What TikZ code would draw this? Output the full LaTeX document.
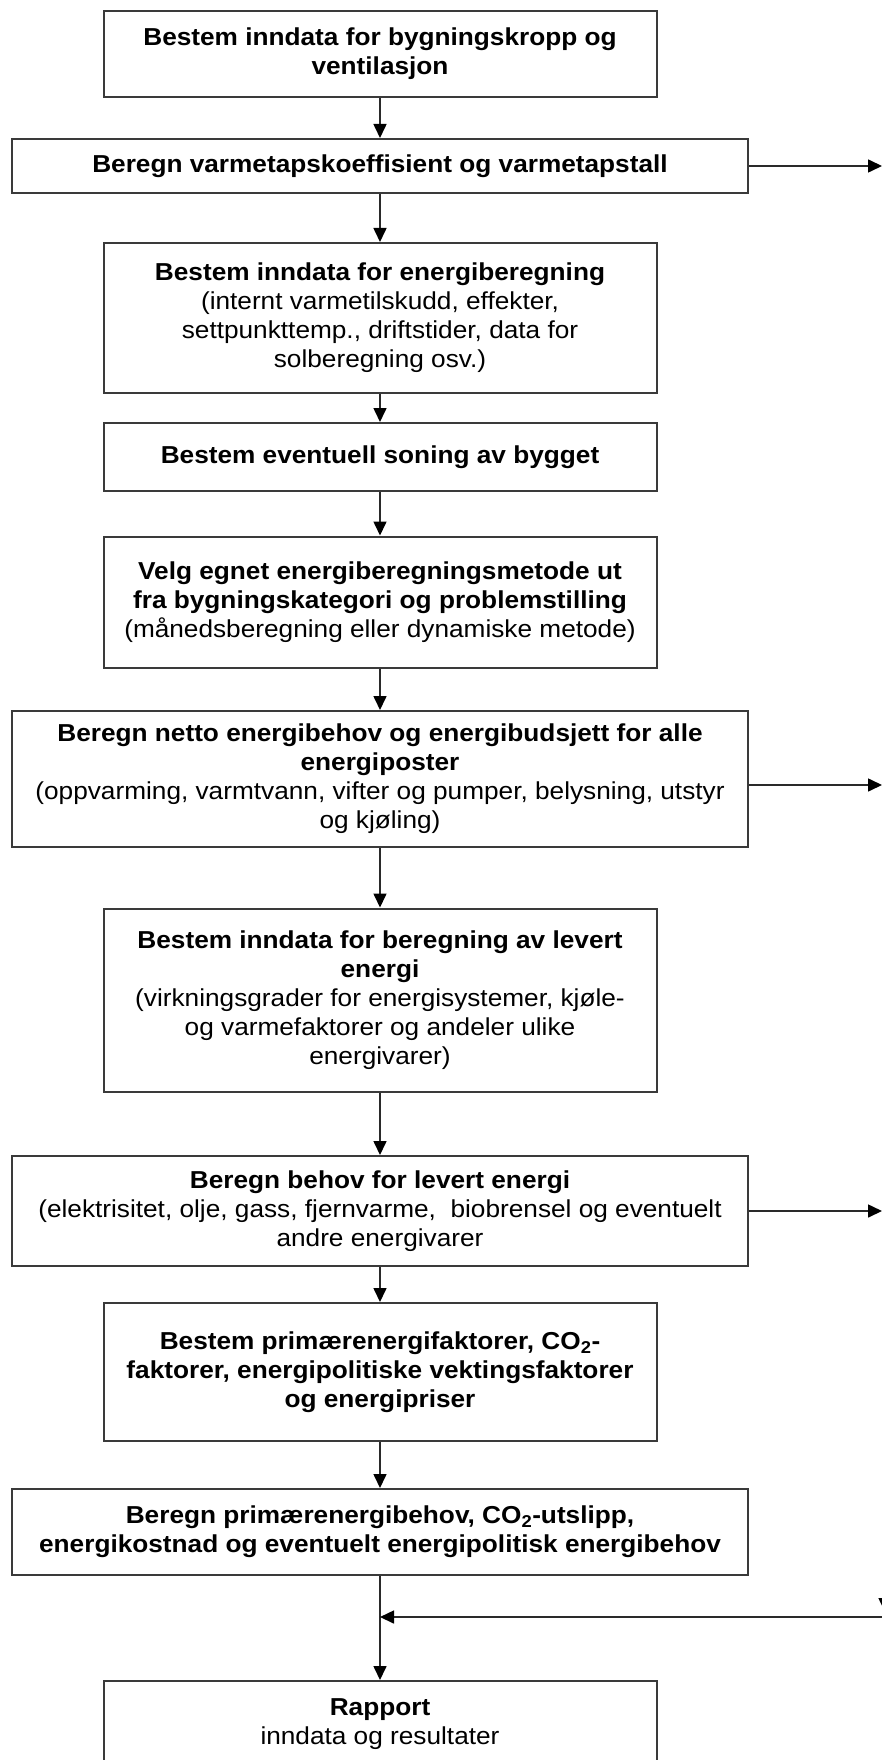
\documentclass[tikz,border=0pt]{standalone}
\usepackage{fontspec}
\setmainfont{Liberation Sans}[FakeStretch=1.07]
\usetikzlibrary{arrows.meta}
\definecolor{boxgray}{HTML}{3A3A3A}
\definecolor{linegray}{HTML}{2A2A2A}
\tikzset{
  box/.style={draw=boxgray, line width=2pt, fill=white, align=center, inner sep=0pt,
    font={\fontsize{24.5}{29}\selectfont}},
  narrowbox/.style={box, minimum width=553pt},
  widebox/.style={box, minimum width=736pt},
  link/.style={draw=linegray, line width=1.6pt, -{Triangle[length=14pt,width=13pt,color=black]}}
}
\begin{document}
\begin{tikzpicture}[x=1pt,y=-1pt]
\useasboundingbox (0,0) rectangle (882,1760);
\clip (0,0) rectangle (882,1760);
\fill[white] (0,0) rectangle (882,1760);

\node[narrowbox, minimum height=86pt] (b1) at (380,54)
  {\textbf{Bestem inndata for bygningskropp og}\\\textbf{ventilasjon}};
\node[widebox, minimum height=54pt] (b2) at (380,166)
  {\textbf{Beregn varmetapskoeffisient og varmetapstall}};
\node[narrowbox, minimum height=150pt] (b3) at (380,318)
  {\textbf{Bestem inndata for energiberegning}\\(internt varmetilskudd, effekter,\\settpunkttemp., driftstider, data for\\solberegning osv.)};
\node[narrowbox, minimum height=68pt] (b4) at (380,457)
  {\textbf{Bestem eventuell soning av bygget}};
\node[narrowbox, minimum height=131pt] (b5) at (380,602)
  {\textbf{Velg egnet energiberegningsmetode ut}\\\textbf{fra bygningskategori og problemstilling}\\(månedsberegning eller dynamiske metode)};
\node[widebox, minimum height=136pt] (b6) at (380,779)
  {\textbf{Beregn netto energibehov og energibudsjett for alle}\\\textbf{energiposter}\\(oppvarming, varmtvann, vifter og pumper, belysning, utstyr\\og kjøling)};
\node[narrowbox, minimum height=183pt] (b7) at (380,1000)
  {\textbf{Bestem inndata for beregning av levert}\\\textbf{energi}\\(virkningsgrader for energisystemer, kjøle-\\og varmefaktorer og andeler ulike\\energivarer)};
\node[widebox, minimum height=110pt] (b8) at (380,1211)
  {\textbf{Beregn behov for levert energi}\\(elektrisitet, olje, gass, fjernvarme,\ \ biobrensel og eventuelt\\andre energivarer};
\node[narrowbox, minimum height=138pt] (b9) at (380,1372)
  {\textbf{Bestem primærenergifaktorer, CO\textsubscript{2}-}\\\textbf{faktorer, energipolitiske vektingsfaktorer}\\\textbf{og energipriser}};
\node[widebox, minimum height=86pt] (b10) at (380,1532)
  {\textbf{Beregn primærenergibehov, CO\textsubscript{2}-utslipp,}\\\textbf{energikostnad og eventuelt energipolitisk energibehov}};
\node[narrowbox, minimum height=86pt] (b11) at (380,1724)
  {\textbf{Rapport}\\inndata og resultater};

\draw[link] (b1) -- (b2);
\draw[link] (b2) -- (b3);
\draw[link] (b3) -- (b4);
\draw[link] (b4) -- (b5);
\draw[link] (b5) -- (b6);
\draw[link] (b6) -- (b7);
\draw[link] (b7) -- (b8);
\draw[link] (b8) -- (b9);
\draw[link] (b9) -- (b10);
\draw[link] (b10) -- (b11);

\coordinate (o2) at (882,166);
\coordinate (o6) at (882,785);
\coordinate (o8) at (882,1211);
\draw[link] (b2.east |- o2) -- (o2);
\draw[link] (b6.east |- o6) -- (o6);
\draw[link] (b8.east |- o8) -- (o8);

\coordinate (fbR) at (882,1617);
\coordinate (fbM) at (b10.south |- fbR);
\coordinate (fbTop) at (885,1560);
\coordinate (fbEnd) at (885,1612);
\draw[link] (fbTop) -- (fbEnd);
\draw[link] (fbR) -- (fbM);
\end{tikzpicture}
\end{document}
